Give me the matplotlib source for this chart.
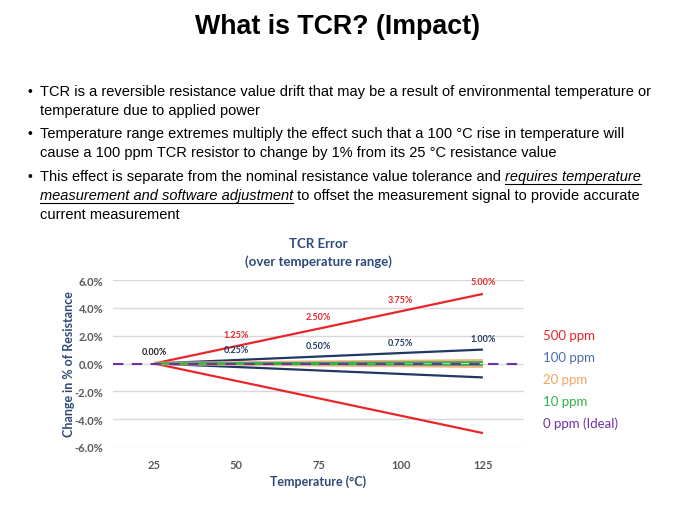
import matplotlib.pyplot as plt

temps = [25, 50, 75, 100, 125]
legend_labels = ['500 ppm', '100 ppm', '20 ppm', '10 ppm', '0 ppm (Ideal)']
err_500 = [0.00, 1.25, 2.50, 3.75, 5.00]
err_100 = [0.00, 0.25, 0.50, 0.75, 1.00]
err_20 = [0.00, 0.05, 0.10, 0.15, 0.20]
err_10 = [0.00, 0.025, 0.05, 0.075, 0.10]
yticks = [-6, -4, -2, 0, 2, 4, 6]

bullets = [
    ['TCR is a reversible resistance value drift that may be a result of environmental temperature or',
     'temperature due to applied power'],
    ['Temperature range extremes multiply the effect such that a 100 \u00b0C rise in temperature will',
     'cause a 100 ppm TCR resistor to change by 1% from its 25 \u00b0C resistance value'],
]

slide_font = ['Liberation Sans', 'DejaVu Sans']
chart_font = ['Lato', 'DejaVu Sans']

red = '#E8262A'
navy = '#1F3864'
label_c = '#2E4A7A'
blue = '#4A6FA5'
orange = '#F4B183'
green = '#2DB34A'
purple = '#7030A0'
grid_c = '#D9D9D9'
tick_c = '#595959'

fig = plt.figure(figsize=(6.75, 5.06), dpi=100)
renderer = fig.canvas.get_renderer()


def fit_size(s, width, **kw):
    # font size so that the string is `width` pixels wide
    t = fig.text(0, 0, s, fontsize=10, family=slide_font, **kw)
    w = t.get_window_extent(renderer).width
    t.remove()
    return 10 * width / w


title_size = fit_size('What is TCR? (Impact)', 284, fontweight='bold')
fig.text(338 / 675, 1 - 27 / 506, 'What is TCR? (Impact)', ha='center', va='center',
         fontsize=title_size, fontweight='bold', family=slide_font)

body_size = fit_size(bullets[0][0], 608)

line_y = [92, 111, 134, 153]
k = 0
for b in bullets:
    fig.text(27 / 675, 1 - line_y[k] / 506, '\u2022', ha='left', va='center', fontsize=10, family=slide_font)
    for ln in b:
        fig.text(40 / 675, 1 - line_y[k] / 506, ln, ha='left', va='center', fontsize=body_size, family=slide_font)
        k += 1

# third bullet with underlined italic fragment
fig.text(27 / 675, 1 - 177 / 506, '\u2022', ha='left', va='center', fontsize=10, family=slide_font)
pieces = [
    [('This effect is separate from the nominal resistance value tolerance and ', False),
     ('requires temperature', True)],
    [('measurement and software adjustment', True),
     (' to offset the measurement signal to provide accurate', False)],
    [('current measurement', False)],
]
for row, yy in zip(pieces, [177, 196, 215]):
    x = 40
    for s, it in row:
        t = fig.text(x / 675, 1 - yy / 506, s, ha='left', va='center', fontsize=body_size,
                     family=slide_font, style='italic' if it else 'normal')
        bb = t.get_window_extent(renderer)
        if it:
            uy = 1 - (yy + 7.5) / 506
            fig.add_artist(plt.Line2D([bb.x0 / 675, bb.x1 / 675], [uy, uy], color='black', lw=0.8))
        x = bb.x1

ax = fig.add_axes([113 / 675, 58 / 506, 411 / 675, 167 / 506])
ax.set_xlim(12.5, 137.5)
ax.set_ylim(-6, 6)
ax.set_yticks(yticks)
ax.set_yticklabels([f'{v:.1f}%' for v in yticks])
ax.set_xticks(temps)
ax.grid(axis='y', color=grid_c, lw=1)
ax.set_axisbelow(True)
for sp in ax.spines.values():
    sp.set_visible(False)
ax.tick_params(length=0, labelsize=8, labelcolor=tick_c)
ax.tick_params(axis='y', pad=7)
ax.tick_params(axis='x', pad=9)
for lab in ax.get_xticklabels() + ax.get_yticklabels():
    lab.set_fontweight('bold')
    lab.set_family(chart_font)

series = [(err_500, red, 1.6), (err_100, navy, 1.6), (err_20, orange, 2.4), (err_10, green, 1.4)]
for vals, c, w in series:
    ax.plot(temps, vals, color=c, lw=w, solid_capstyle='butt')
    ax.plot(temps, [-v for v in vals], color=c, lw=w, solid_capstyle='butt')
ax.axhline(0, color=purple, lw=1.5, ls=(0, (5, 4)))

for t, v in zip(temps[1:], err_500[1:]):
    ax.annotate(f'{v:.2f}%', (t, v), xytext=(0, 12), textcoords='offset pixels', ha='center', va='center',
                fontsize=6.5, fontweight='bold', color=red, family=chart_font)
for t, v in zip(temps[1:], err_100[1:]):
    ax.annotate(f'{v:.2f}%', (t, v), xytext=(0, 11), textcoords='offset pixels', ha='center', va='center',
                fontsize=6.5, fontweight='bold', color=navy, family=chart_font)
ax.annotate('0.00%', (temps[0], 0), xytext=(0, 12), textcoords='offset pixels', ha='center', va='center',
            fontsize=6.5, fontweight='bold', color='#222222', family=chart_font)

ax.set_title('TCR Error\n(over temperature range)', fontsize=9.5, fontweight='bold', color=label_c,
             family=chart_font, pad=11, linespacing=1.45)
ax.set_xlabel('Temperature (\u00b0C)', fontsize=9, fontweight='bold', color=label_c, family=chart_font, labelpad=3)
ax.set_ylabel('Change in % of Resistance', fontsize=9, fontweight='bold', color=label_c, family=chart_font,
              labelpad=0)

leg_colors = [red, blue, '#F4A460', green, purple]
for i, (lab, c) in enumerate(zip(legend_labels, leg_colors)):
    fig.text(543 / 675, 1 - (336 + i * 22) / 506, lab, ha='left', va='center', fontsize=9.5, color=c,
             family=chart_font)

fig.savefig('out.png', dpi=100)
